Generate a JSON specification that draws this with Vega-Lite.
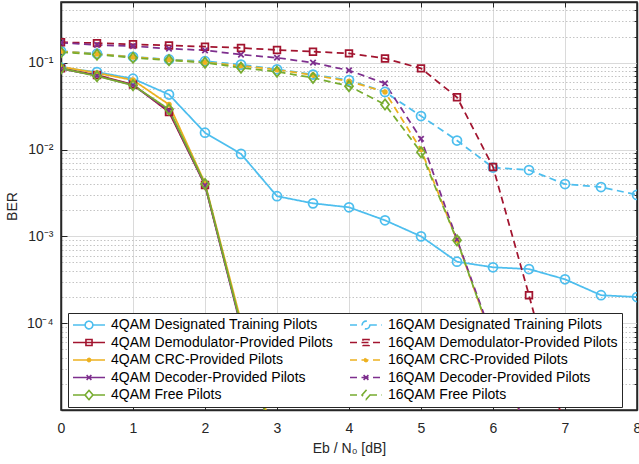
{
  "$schema": "https://vega.github.io/schema/vega-lite/v6.json",
  "width": 576,
  "height": 408,
  "autosize": {"type": "none"},
  "padding": {"left": 61, "top": 2, "right": 2, "bottom": 54},
  "background": "white",
  "config": {
    "font": "Liberation Sans",
    "view": {"stroke": "#262626", "strokeWidth": 1.5},
    "axis": {"labelFont": "Liberation Sans", "titleFont": "Liberation Sans", "labelFontSize": 14, "titleFontSize": 14, "titleFontWeight": "normal", "labelColor": "#262626", "titleColor": "#262626", "domainColor": "#262626", "tickColor": "#262626", "domainWidth": 1.5}
  },
  "data": {"values": [
    {"series": "4QAM Designated Training Pilots", "ebn0": 0, "ber": 0.088},
    {"series": "4QAM Designated Training Pilots", "ebn0": 0.5, "ber": 0.078},
    {"series": "4QAM Designated Training Pilots", "ebn0": 1, "ber": 0.0654},
    {"series": "4QAM Designated Training Pilots", "ebn0": 1.5, "ber": 0.043},
    {"series": "4QAM Designated Training Pilots", "ebn0": 2, "ber": 0.0156},
    {"series": "4QAM Designated Training Pilots", "ebn0": 2.5, "ber": 0.0089},
    {"series": "4QAM Designated Training Pilots", "ebn0": 3, "ber": 0.0029},
    {"series": "4QAM Designated Training Pilots", "ebn0": 3.5, "ber": 0.0024},
    {"series": "4QAM Designated Training Pilots", "ebn0": 4, "ber": 0.00216},
    {"series": "4QAM Designated Training Pilots", "ebn0": 4.5, "ber": 0.00153},
    {"series": "4QAM Designated Training Pilots", "ebn0": 5, "ber": 0.001},
    {"series": "4QAM Designated Training Pilots", "ebn0": 5.5, "ber": 0.00051},
    {"series": "4QAM Designated Training Pilots", "ebn0": 6, "ber": 0.00044},
    {"series": "4QAM Designated Training Pilots", "ebn0": 6.5, "ber": 0.00042},
    {"series": "4QAM Designated Training Pilots", "ebn0": 7, "ber": 0.00032},
    {"series": "4QAM Designated Training Pilots", "ebn0": 7.5, "ber": 0.00021},
    {"series": "4QAM Designated Training Pilots", "ebn0": 8, "ber": 0.0002},
    {"series": "4QAM Demodulator-Provided Pilots", "ebn0": 0, "ber": 0.086},
    {"series": "4QAM Demodulator-Provided Pilots", "ebn0": 0.5, "ber": 0.072},
    {"series": "4QAM Demodulator-Provided Pilots", "ebn0": 1, "ber": 0.056},
    {"series": "4QAM Demodulator-Provided Pilots", "ebn0": 1.5, "ber": 0.027},
    {"series": "4QAM Demodulator-Provided Pilots", "ebn0": 2, "ber": 0.0039},
    {"series": "4QAM Demodulator-Provided Pilots", "ebn0": 2.5, "ber": 0.000095},
    {"series": "4QAM Demodulator-Provided Pilots", "ebn0": 3, "ber": 0.000003},
    {"series": "4QAM CRC-Provided Pilots", "ebn0": 0, "ber": 0.09},
    {"series": "4QAM CRC-Provided Pilots", "ebn0": 0.5, "ber": 0.076},
    {"series": "4QAM CRC-Provided Pilots", "ebn0": 1, "ber": 0.063},
    {"series": "4QAM CRC-Provided Pilots", "ebn0": 1.5, "ber": 0.033},
    {"series": "4QAM CRC-Provided Pilots", "ebn0": 2, "ber": 0.0041},
    {"series": "4QAM CRC-Provided Pilots", "ebn0": 2.5, "ber": 0.000105},
    {"series": "4QAM CRC-Provided Pilots", "ebn0": 3, "ber": 0.0000035},
    {"series": "4QAM Decoder-Provided Pilots", "ebn0": 0, "ber": 0.085},
    {"series": "4QAM Decoder-Provided Pilots", "ebn0": 0.5, "ber": 0.071},
    {"series": "4QAM Decoder-Provided Pilots", "ebn0": 1, "ber": 0.055},
    {"series": "4QAM Decoder-Provided Pilots", "ebn0": 1.5, "ber": 0.028},
    {"series": "4QAM Decoder-Provided Pilots", "ebn0": 2, "ber": 0.0039},
    {"series": "4QAM Decoder-Provided Pilots", "ebn0": 2.5, "ber": 0.00009},
    {"series": "4QAM Decoder-Provided Pilots", "ebn0": 3, "ber": 0.000003},
    {"series": "4QAM Free Pilots", "ebn0": 0, "ber": 0.086},
    {"series": "4QAM Free Pilots", "ebn0": 0.5, "ber": 0.07},
    {"series": "4QAM Free Pilots", "ebn0": 1, "ber": 0.055},
    {"series": "4QAM Free Pilots", "ebn0": 1.5, "ber": 0.029},
    {"series": "4QAM Free Pilots", "ebn0": 2, "ber": 0.004},
    {"series": "4QAM Free Pilots", "ebn0": 2.5, "ber": 0.000095},
    {"series": "4QAM Free Pilots", "ebn0": 3, "ber": 0.000003},
    {"series": "16QAM Designated Training Pilots", "ebn0": 0, "ber": 0.136},
    {"series": "16QAM Designated Training Pilots", "ebn0": 0.5, "ber": 0.127},
    {"series": "16QAM Designated Training Pilots", "ebn0": 1, "ber": 0.117},
    {"series": "16QAM Designated Training Pilots", "ebn0": 1.5, "ber": 0.109},
    {"series": "16QAM Designated Training Pilots", "ebn0": 2, "ber": 0.104},
    {"series": "16QAM Designated Training Pilots", "ebn0": 2.5, "ber": 0.095},
    {"series": "16QAM Designated Training Pilots", "ebn0": 3, "ber": 0.084},
    {"series": "16QAM Designated Training Pilots", "ebn0": 3.5, "ber": 0.073},
    {"series": "16QAM Designated Training Pilots", "ebn0": 4, "ber": 0.063},
    {"series": "16QAM Designated Training Pilots", "ebn0": 4.5, "ber": 0.046},
    {"series": "16QAM Designated Training Pilots", "ebn0": 5, "ber": 0.0243},
    {"series": "16QAM Designated Training Pilots", "ebn0": 5.5, "ber": 0.0127},
    {"series": "16QAM Designated Training Pilots", "ebn0": 6, "ber": 0.0062},
    {"series": "16QAM Designated Training Pilots", "ebn0": 6.5, "ber": 0.0058},
    {"series": "16QAM Designated Training Pilots", "ebn0": 7, "ber": 0.004},
    {"series": "16QAM Designated Training Pilots", "ebn0": 7.5, "ber": 0.0037},
    {"series": "16QAM Designated Training Pilots", "ebn0": 8, "ber": 0.003},
    {"series": "16QAM Demodulator-Provided Pilots", "ebn0": 0, "ber": 0.172},
    {"series": "16QAM Demodulator-Provided Pilots", "ebn0": 0.5, "ber": 0.168},
    {"series": "16QAM Demodulator-Provided Pilots", "ebn0": 1, "ber": 0.163},
    {"series": "16QAM Demodulator-Provided Pilots", "ebn0": 1.5, "ber": 0.158},
    {"series": "16QAM Demodulator-Provided Pilots", "ebn0": 2, "ber": 0.153},
    {"series": "16QAM Demodulator-Provided Pilots", "ebn0": 2.5, "ber": 0.148},
    {"series": "16QAM Demodulator-Provided Pilots", "ebn0": 3, "ber": 0.14},
    {"series": "16QAM Demodulator-Provided Pilots", "ebn0": 3.5, "ber": 0.134},
    {"series": "16QAM Demodulator-Provided Pilots", "ebn0": 4, "ber": 0.128},
    {"series": "16QAM Demodulator-Provided Pilots", "ebn0": 4.5, "ber": 0.112},
    {"series": "16QAM Demodulator-Provided Pilots", "ebn0": 5, "ber": 0.086},
    {"series": "16QAM Demodulator-Provided Pilots", "ebn0": 5.5, "ber": 0.04},
    {"series": "16QAM Demodulator-Provided Pilots", "ebn0": 6, "ber": 0.0063},
    {"series": "16QAM Demodulator-Provided Pilots", "ebn0": 6.5, "ber": 0.00021},
    {"series": "16QAM Demodulator-Provided Pilots", "ebn0": 7, "ber": 0.000006},
    {"series": "16QAM CRC-Provided Pilots", "ebn0": 0, "ber": 0.135},
    {"series": "16QAM CRC-Provided Pilots", "ebn0": 0.5, "ber": 0.126},
    {"series": "16QAM CRC-Provided Pilots", "ebn0": 1, "ber": 0.116},
    {"series": "16QAM CRC-Provided Pilots", "ebn0": 1.5, "ber": 0.108},
    {"series": "16QAM CRC-Provided Pilots", "ebn0": 2, "ber": 0.101},
    {"series": "16QAM CRC-Provided Pilots", "ebn0": 2.5, "ber": 0.092},
    {"series": "16QAM CRC-Provided Pilots", "ebn0": 3, "ber": 0.083},
    {"series": "16QAM CRC-Provided Pilots", "ebn0": 3.5, "ber": 0.072},
    {"series": "16QAM CRC-Provided Pilots", "ebn0": 4, "ber": 0.061},
    {"series": "16QAM CRC-Provided Pilots", "ebn0": 4.5, "ber": 0.046},
    {"series": "16QAM CRC-Provided Pilots", "ebn0": 5, "ber": 0.01},
    {"series": "16QAM CRC-Provided Pilots", "ebn0": 5.5, "ber": 0.0009},
    {"series": "16QAM CRC-Provided Pilots", "ebn0": 6, "ber": 0.00006},
    {"series": "16QAM CRC-Provided Pilots", "ebn0": 6.5, "ber": 0.000005},
    {"series": "16QAM Decoder-Provided Pilots", "ebn0": 0, "ber": 0.17},
    {"series": "16QAM Decoder-Provided Pilots", "ebn0": 0.5, "ber": 0.16},
    {"series": "16QAM Decoder-Provided Pilots", "ebn0": 1, "ber": 0.155},
    {"series": "16QAM Decoder-Provided Pilots", "ebn0": 1.5, "ber": 0.145},
    {"series": "16QAM Decoder-Provided Pilots", "ebn0": 2, "ber": 0.139},
    {"series": "16QAM Decoder-Provided Pilots", "ebn0": 2.5, "ber": 0.124},
    {"series": "16QAM Decoder-Provided Pilots", "ebn0": 3, "ber": 0.114},
    {"series": "16QAM Decoder-Provided Pilots", "ebn0": 3.5, "ber": 0.1},
    {"series": "16QAM Decoder-Provided Pilots", "ebn0": 4, "ber": 0.0815},
    {"series": "16QAM Decoder-Provided Pilots", "ebn0": 4.5, "ber": 0.0577},
    {"series": "16QAM Decoder-Provided Pilots", "ebn0": 5, "ber": 0.0133},
    {"series": "16QAM Decoder-Provided Pilots", "ebn0": 5.5, "ber": 0.00092},
    {"series": "16QAM Decoder-Provided Pilots", "ebn0": 6, "ber": 0.000065},
    {"series": "16QAM Decoder-Provided Pilots", "ebn0": 6.5, "ber": 0.000005},
    {"series": "16QAM Free Pilots", "ebn0": 0, "ber": 0.132},
    {"series": "16QAM Free Pilots", "ebn0": 0.5, "ber": 0.124},
    {"series": "16QAM Free Pilots", "ebn0": 1, "ber": 0.114},
    {"series": "16QAM Free Pilots", "ebn0": 1.5, "ber": 0.107},
    {"series": "16QAM Free Pilots", "ebn0": 2, "ber": 0.1},
    {"series": "16QAM Free Pilots", "ebn0": 2.5, "ber": 0.0876},
    {"series": "16QAM Free Pilots", "ebn0": 3, "ber": 0.0788},
    {"series": "16QAM Free Pilots", "ebn0": 3.5, "ber": 0.067},
    {"series": "16QAM Free Pilots", "ebn0": 4, "ber": 0.0537},
    {"series": "16QAM Free Pilots", "ebn0": 4.5, "ber": 0.033},
    {"series": "16QAM Free Pilots", "ebn0": 5, "ber": 0.0093},
    {"series": "16QAM Free Pilots", "ebn0": 5.5, "ber": 0.0009},
    {"series": "16QAM Free Pilots", "ebn0": 6, "ber": 0.00006},
    {"series": "16QAM Free Pilots", "ebn0": 6.5, "ber": 0.000005}
  ]},
  "layer": [
    {
      "encoding": {
        "x": {"field": "ebn0", "type": "quantitative", "scale": {"domain": [0, 8], "nice": false, "zero": false},
              "axis": {"values": [0,1,2,3,4,5,6,7,8], "title": "Eb / N₀ [dB]", "grid": true, "gridColor": "#dadada", "gridWidth": 1, "tickSize": -5, "labelPadding": 16, "titlePadding": 6, "labelFlush": false}},
        "y": {"field": "ber", "type": "quantitative", "scale": {"type": "log", "domain": [0.00001, 0.5], "nice": false},
              "axis": {"values": [0.0001, 0.001, 0.01, 0.1], "title": "BER", "grid": true, "gridColor": "#dadada", "gridWidth": 1, "tickSize": -6, "labelPadding": 14, "titlePadding": 7,
                       "labelExpr": "datum.value < 0.0002 ? '10⁻⁴' : datum.value < 0.002 ? '10⁻³' : datum.value < 0.02 ? '10⁻²' : '10⁻¹'"}}
      },
      "layer": [
        {
          "transform": [{"filter": "datum.ebn0 < 0"}],
          "mark": {"type": "point", "filled": false, "opacity": 1, "strokeWidth": 1.5},
          "encoding": {
            "stroke": {"field": "series", "type": "nominal",
              "scale": {"domain": ["4QAM Designated Training Pilots", "4QAM Demodulator-Provided Pilots", "4QAM CRC-Provided Pilots", "4QAM Decoder-Provided Pilots", "4QAM Free Pilots", "16QAM Designated Training Pilots", "16QAM Demodulator-Provided Pilots", "16QAM CRC-Provided Pilots", "16QAM Decoder-Provided Pilots", "16QAM Free Pilots"],
                        "range": ["#4DBEEE", "#A2142F", "#EDB120", "#7E2F8E", "#77AC30", "#4DBEEE", "#A2142F", "#EDB120", "#7E2F8E", "#77AC30"]},
              "legend": {"orient": "none", "legendX": 7, "legendY": 311, "columns": 2, "title": null, "symbolSize": 1024, "symbolStrokeWidth": 1.6, "labelFontSize": 14, "labelFont": "Liberation Sans", "labelColor": "#000000", "labelLimit": 400, "labelOffset": 5, "padding": 4, "rowPadding": 1.5, "columnPadding": 16, "clipHeight": 16, "strokeColor": "#262626", "fillColor": "#ffffff"}},
            "shape": {"field": "series", "type": "nominal",
              "scale": {"domain": ["4QAM Designated Training Pilots", "4QAM Demodulator-Provided Pilots", "4QAM CRC-Provided Pilots", "4QAM Decoder-Provided Pilots", "4QAM Free Pilots", "16QAM Designated Training Pilots", "16QAM Demodulator-Provided Pilots", "16QAM CRC-Provided Pilots", "16QAM Decoder-Provided Pilots", "16QAM Free Pilots"],
                        "range": [
                          "M-1,0H-0.24M0.24,0H1M0.24,0A0.24,0.24 0 1,1 -0.24,0A0.24,0.24 0 1,1 0.24,0Z",
                          "M-1,0H1M-0.19,-0.19H0.19V0.19H-0.19Z",
                          "M-1,0H1M0.1,0A0.1,0.1 0 1,1 -0.1,0A0.1,0.1 0 1,1 0.1,0M0.04,0A0.04,0.04 0 1,1 -0.04,0A0.04,0.04 0 1,1 0.04,0",
                          "M-1,0H1M-0.15,-0.15L0.15,0.15M-0.15,0.15L0.15,-0.15",
                          "M-1,0H-0.25M0.25,0H1M-0.25,0L0,-0.29L0.25,0L0,0.29Z",
                          "M-1,0H-0.24M0.24,0H1M0.24,0A0.24,0.24 0 1,1 -0.24,0A0.24,0.24 0 1,1 0.24,0Z",
                          "M-1,0H1M-0.19,-0.19H0.19V0.19H-0.19Z",
                          "M-1,0H1M0.1,0A0.1,0.1 0 1,1 -0.1,0A0.1,0.1 0 1,1 0.1,0M0.04,0A0.04,0.04 0 1,1 -0.04,0A0.04,0.04 0 1,1 0.04,0",
                          "M-1,0H1M-0.15,-0.15L0.15,0.15M-0.15,0.15L0.15,-0.15",
                          "M-1,0H-0.25M0.25,0H1M-0.25,0L0,-0.29L0.25,0L0,0.29Z"]}},
            "strokeDash": {"field": "series", "type": "nominal",
              "scale": {"domain": ["4QAM Designated Training Pilots", "4QAM Demodulator-Provided Pilots", "4QAM CRC-Provided Pilots", "4QAM Decoder-Provided Pilots", "4QAM Free Pilots", "16QAM Designated Training Pilots", "16QAM Demodulator-Provided Pilots", "16QAM CRC-Provided Pilots", "16QAM Decoder-Provided Pilots", "16QAM Free Pilots"],
                        "range": [[1,0],[1,0],[1,0],[1,0],[1,0],[7,4.5],[7,4.5],[7,4.5],[7,4.5],[7,4.5]]}}
          }
        },
        {
          "mark": {"type": "line", "strokeWidth": 1.75, "clip": true},
          "encoding": {
            "stroke": {"field": "series", "type": "nominal", "legend": null},
            "strokeDash": {"field": "series", "type": "nominal", "legend": null}
          }
        },
        {
          "transform": [{"filter": {"field": "series", "oneOf": ["4QAM Designated Training Pilots", "16QAM Designated Training Pilots"]}}],
          "mark": {"type": "point", "shape": "circle", "filled": false, "size": 81, "strokeWidth": 1.75, "color": "#4DBEEE", "opacity": 1, "clip": true}
        },
        {
          "transform": [{"filter": {"field": "series", "oneOf": ["4QAM Demodulator-Provided Pilots", "16QAM Demodulator-Provided Pilots"]}}],
          "mark": {"type": "point", "shape": "square", "filled": false, "size": 45, "strokeWidth": 1.75, "color": "#A2142F", "opacity": 1, "clip": true}
        },
        {
          "transform": [{"filter": {"field": "series", "oneOf": ["4QAM CRC-Provided Pilots", "16QAM CRC-Provided Pilots"]}}],
          "mark": {"type": "point", "shape": "circle", "filled": true, "size": 30, "color": "#EDB120", "opacity": 1, "clip": true}
        },
        {
          "transform": [{"filter": {"field": "series", "oneOf": ["4QAM Decoder-Provided Pilots", "16QAM Decoder-Provided Pilots"]}}],
          "mark": {"type": "point", "shape": "M-1,-1L1,1M-1,1L1,-1", "filled": false, "size": 30, "strokeWidth": 1.75, "color": "#7E2F8E", "opacity": 1, "clip": true}
        },
        {
          "transform": [{"filter": {"field": "series", "oneOf": ["4QAM Free Pilots", "16QAM Free Pilots"]}}],
          "mark": {"type": "point", "shape": "M0,-1.15L0.9,0L0,1.15L-0.9,0Z", "filled": false, "size": 81, "strokeWidth": 1.75, "color": "#77AC30", "opacity": 1, "clip": true}
        }
      ]
    },
    {
      "transform": [{"filter": "datum.ebn0 < 0"}],
      "mark": {"type": "point", "opacity": 0},
      "encoding": {
        "x": {"field": "ebn0", "type": "quantitative", "scale": {"domain": [0, 8], "nice": false, "zero": false},
              "axis": {"orient": "top", "values": [0,1,2,3,4,5,6,7,8], "labels": false, "title": null, "grid": false, "tickSize": -5}},
        "y": {"field": "ber", "type": "quantitative", "scale": {"type": "log", "domain": [0.00001, 0.5], "nice": false},
              "axis": {"orient": "right", "values": [0.00002,0.00003,0.00004,0.00005,0.00006,0.00007,0.00008,0.00009,0.0002,0.0003,0.0004,0.0005,0.0006,0.0007,0.0008,0.0009,0.002,0.003,0.004,0.005,0.006,0.007,0.008,0.009,0.02,0.03,0.04,0.05,0.06,0.07,0.08,0.09,0.2,0.3,0.4],
                       "labels": false, "title": null, "grid": true, "gridDash": [1.5, 2], "gridColor": "#c4c4c4", "gridWidth": 1, "tickSize": -3}}
      }
    }
  ],
  "resolve": {"axis": {"x": "independent", "y": "independent"}}
}
